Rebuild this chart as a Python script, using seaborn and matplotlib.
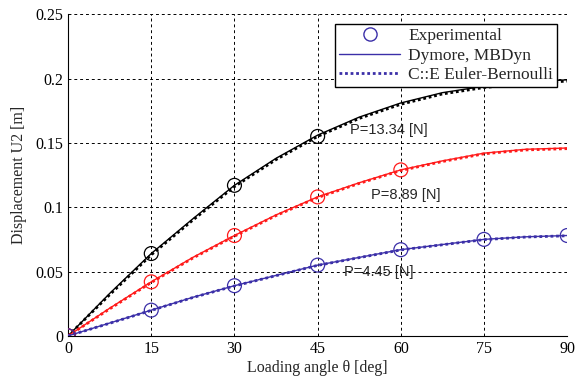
import numpy as np
import pandas as pd
import seaborn as sns
import matplotlib.pyplot as plt
from matplotlib.lines import Line2D

# Angulos (graus) e deslocamentos
angulo = [0, 7.5, 15, 22.5, 30, 37.5, 45, 52.5, 60, 67.5, 75, 82.5, 90]

dymore_1334 = [0, 0.033, 0.064, 0.091, 0.117, 0.138, 0.156, 0.170, 0.181, 0.189, 0.194, 0.197, 0.199]
dymore_889 = [0, 0.0215, 0.042, 0.061, 0.078, 0.094, 0.108, 0.119, 0.129, 0.136, 0.142, 0.145, 0.146]
dymore_445 = [0, 0.010, 0.020, 0.030, 0.039, 0.047, 0.055, 0.061, 0.067, 0.071, 0.075, 0.077, 0.078]

ce_1334 = [0, 0.032, 0.063, 0.090, 0.116, 0.137, 0.155, 0.169, 0.180, 0.188, 0.193, 0.196, 0.198]
ce_889 = [0, 0.021, 0.0415, 0.0605, 0.0775, 0.0935, 0.1075, 0.1185, 0.1285, 0.1355, 0.1415, 0.1445, 0.1455]
ce_445 = [0, 0.0098, 0.0198, 0.0298, 0.0388, 0.0468, 0.0548, 0.0608, 0.0668, 0.0708, 0.0748, 0.0768, 0.0778]

# Pontos experimentais
exp_ang_1334 = [0, 15, 30, 45]
exp_1334 = [0, 0.064, 0.117, 0.155]
exp_ang_889 = [0, 15, 30, 45, 60]
exp_889 = [0, 0.042, 0.078, 0.108, 0.129]
exp_ang_445 = [0, 15, 30, 45, 60, 75, 90]
exp_445 = [0, 0.020, 0.039, 0.055, 0.067, 0.075, 0.078]

rotulos = ['P=13.34 [N]', 'P=8.89 [N]', 'P=4.45 [N]']
cores = ['black', '#ff1a1a', '#3b2fa8']

sns.set_style("white")
plt.rcParams['font.family'] = ['Liberation Serif', 'DejaVu Serif']

fig = plt.figure(figsize=(5.77, 3.83), dpi=100)
ax = fig.add_axes([0.118, 0.123, 0.865, 0.840])

series = [
    (dymore_1334, ce_1334, exp_ang_1334, exp_1334, cores[0]),
    (dymore_889, ce_889, exp_ang_889, exp_889, cores[1]),
    (dymore_445, ce_445, exp_ang_445, exp_445, cores[2]),
]

for dym, ce, ea, ev, c in series:
    sns.lineplot(x=angulo, y=dym, color=c, linewidth=1.0, ax=ax, zorder=3)
    ax.plot(angulo, ce, color=c, linestyle=(0, (1, 1)), linewidth=2.0, zorder=3)
    ax.scatter(ea, ev, s=100, facecolors='none', edgecolors=c, linewidths=0.9, zorder=4)

# Legenda com os handles da serie azul
handles = [
    Line2D([], [], marker='o', linestyle='', markerfacecolor='none', markeredgecolor=cores[2], markersize=9.5),
    Line2D([], [], color=cores[2], linewidth=1.0),
    Line2D([], [], color=cores[2], linestyle=(0, (1, 1)), linewidth=2.0),
]
leg = ax.legend(handles, ['Experimental', 'Dymore, MBDyn', 'C::E Euler-Bernoulli'],
                loc='upper right', bbox_to_anchor=(0.980, 0.970), fontsize=12.5,
                fancybox=False, framealpha=1, edgecolor='black', borderpad=0.25,
                labelspacing=0.18, handlelength=3.5, handletextpad=0.45, borderaxespad=0)
leg.get_frame().set_linewidth(1.0)
leg.set_zorder(10)

ax.text(50.9, 0.160, rotulos[0], family='Liberation Sans', fontsize=10.5, va='center')
ax.text(54.6, 0.1095, rotulos[1], family='Liberation Sans', fontsize=10.5, va='center')
ax.text(49.8, 0.0495, rotulos[2], family='Liberation Sans', fontsize=10.5, va='center')

ax.set_xlim(0, 90)
ax.set_ylim(0, 0.25)
ax.set_xticks([0, 15, 30, 45, 60, 75, 90])
ax.set_yticks([0, 0.05, 0.1, 0.15, 0.2, 0.25])
ax.set_yticklabels(['0', '0.05', '0.1', '0.15', '0.2', '0.25'])
ax.grid(True, color='black', linestyle=(0, (3, 3)), linewidth=0.7)
ax.tick_params(direction='in', length=3, labelsize=11.5, colors='black')
ax.spines['top'].set_visible(False)
ax.spines['right'].set_visible(False)
for s in ['left', 'bottom']:
    ax.spines[s].set_color('black')
    ax.spines[s].set_linewidth(0.8)

ax.set_xlabel('Loading angle θ [deg]', fontsize=11.5, labelpad=2)
ax.set_ylabel('Displacement U2 [m]', fontsize=11.5, labelpad=6)

plt.savefig('out.png', dpi=100)
